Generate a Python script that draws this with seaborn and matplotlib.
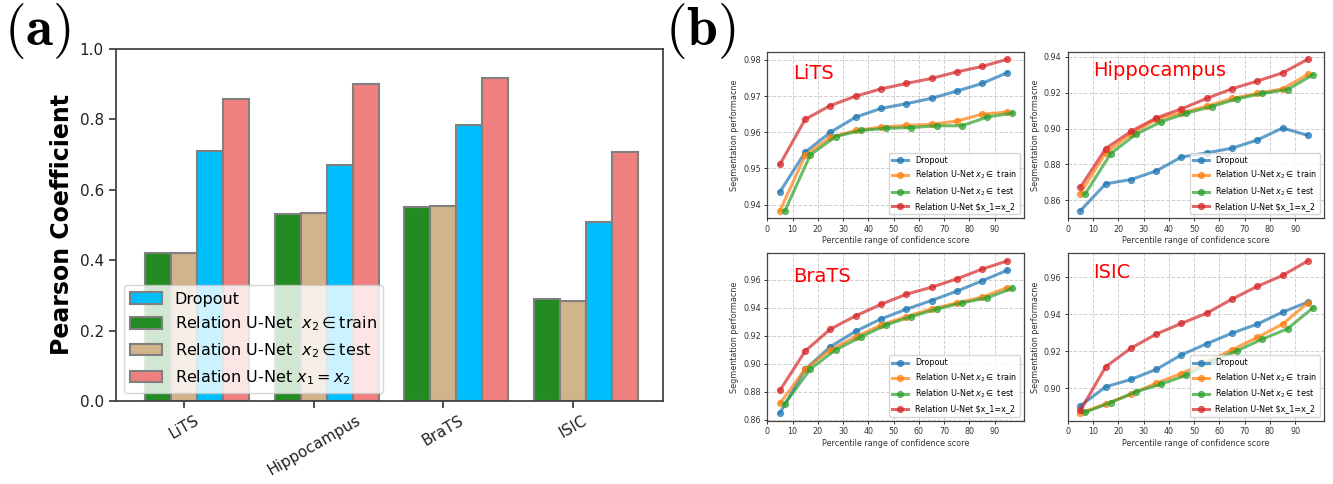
import numpy as np
import pandas as pd
import matplotlib
matplotlib.use("Agg")
import matplotlib.pyplot as plt
from matplotlib.ticker import MultipleLocator
import seaborn as sns

# ---------------- data: panel (a) ----------------
datasets = ["LiTS", "Hippocampus", "BraTS", "ISIC"]
pearson_dropout = [0.710, 0.670, 0.785, 0.508]
pearson_train = [0.420, 0.530, 0.552, 0.290]
pearson_test = [0.420, 0.535, 0.553, 0.284]
pearson_x1x2 = [0.857, 0.900, 0.917, 0.707]

# ---------------- data: panel (b) ----------------
pct_x = [5, 15, 25, 35, 45, 55, 65, 75, 85, 95]
pct_x_test = [7, 17, 27, 37, 47, 57, 67, 77, 87, 97]

lits_dropout = [0.9435, 0.9545, 0.9600, 0.9642, 0.9666, 0.9679, 0.9694, 0.9714, 0.9735, 0.9765]
lits_train = [0.9383, 0.9536, 0.9586, 0.9605, 0.9614, 0.9619, 0.9622, 0.9631, 0.9650, 0.9656]
lits_test = [0.9383, 0.9537, 0.9588, 0.9605, 0.9611, 0.9613, 0.9618, 0.9618, 0.9642, 0.9653]
lits_x1x2 = [0.9511, 0.9636, 0.9674, 0.9700, 0.9720, 0.9735, 0.9749, 0.9767, 0.9782, 0.9802]

hippo_dropout = [0.8541, 0.8691, 0.8715, 0.8763, 0.8841, 0.8864, 0.8890, 0.8936, 0.9003, 0.8962]
hippo_train = [0.8637, 0.8864, 0.8969, 0.9051, 0.9088, 0.9125, 0.9168, 0.9196, 0.9222, 0.9302]
hippo_test = [0.8637, 0.8860, 0.8968, 0.9038, 0.9086, 0.9123, 0.9166, 0.9196, 0.9218, 0.9300]
hippo_x1x2 = [0.8672, 0.8888, 0.8984, 0.9059, 0.9110, 0.9168, 0.9222, 0.9265, 0.9311, 0.9387]

brats_dropout = [0.8646, 0.8959, 0.9122, 0.9232, 0.9320, 0.9390, 0.9452, 0.9519, 0.9593, 0.9669]
brats_train = [0.8715, 0.8961, 0.9100, 0.9193, 0.9277, 0.9337, 0.9392, 0.9435, 0.9476, 0.9545]
brats_test = [0.8713, 0.8961, 0.9098, 0.9191, 0.9277, 0.9337, 0.9390, 0.9435, 0.9471, 0.9540]
brats_x1x2 = [0.8808, 0.9090, 0.9248, 0.9342, 0.9425, 0.9497, 0.9547, 0.9607, 0.9677, 0.9736]

isic_dropout = [0.8904, 0.9007, 0.9047, 0.9101, 0.9180, 0.9240, 0.9297, 0.9346, 0.9411, 0.9465]
isic_train = [0.8865, 0.8915, 0.8967, 0.9027, 0.9079, 0.9140, 0.9207, 0.9274, 0.9346, 0.9461]
isic_test = [0.8870, 0.8922, 0.8980, 0.9022, 0.9070, 0.9146, 0.9202, 0.9265, 0.9321, 0.9434]
isic_x1x2 = [0.8879, 0.9115, 0.9216, 0.9292, 0.9350, 0.9405, 0.9481, 0.9550, 0.9609, 0.9688]

# ---------------- figure ----------------
fig = plt.figure(figsize=(13.33, 4.84), dpi=100)
spine_col = "#444444"

# ---------- panel (a) ----------
axa = fig.add_axes([0.0868, 0.1715, 0.4104, 0.7273])
lab_drop = "Dropout"
lab_train = r"Relation U-Net  $x_2 \in$train"
lab_test = r"Relation U-Net  $x_2 \in$test"
lab_x1x2 = r"Relation U-Net $x_1 = x_2$"

rows = []
for i, d in enumerate(datasets):
    rows.append((d, lab_train, pearson_train[i]))
    rows.append((d, lab_test, pearson_test[i]))
    rows.append((d, lab_drop, pearson_dropout[i]))
    rows.append((d, lab_x1x2, pearson_x1x2[i]))
df = pd.DataFrame(rows, columns=["dataset", "method", "value"])

hue_order = [lab_train, lab_test, lab_drop, lab_x1x2]
palette = ["forestgreen", "tan", "deepskyblue", "lightcoral"]
sns.barplot(data=df, x="dataset", y="value", hue="method", hue_order=hue_order,
            order=datasets, palette=palette, saturation=1, errorbar=None,
            edgecolor="gray", linewidth=1.5, width=0.8, legend=False, ax=axa)

axa.set_ylim(0, 1.0)
axa.set_xlim(-0.626, 3.591)
axa.set_xticks(np.arange(len(datasets)) - 0.1)
axa.set_xticklabels(datasets, rotation=30, fontsize=11)
axa.tick_params(axis="y", labelsize=11)
axa.tick_params(colors="#222222", length=5, width=1.1)
axa.set_xlabel("")
axa.set_ylabel("Pearson Coefficient", fontsize=17, fontweight="bold")
for s in axa.spines.values():
    s.set_color(spine_col)
    s.set_linewidth(1.3)

conts = axa.containers
handles = [conts[2], conts[0], conts[1], conts[3]]
labels = [lab_drop, lab_train, lab_test, lab_x1x2]
axa.legend(handles, labels, loc="lower left", fontsize=11.5)

# ---------- panel (b) ----------
W, H = 0.1926, 0.3442
positions = [
    [0.5756, 0.5490, W, H],
    [0.8010, 0.5490, W, H],
    [0.5756, 0.1308, W, 0.3459],
    [0.8010, 0.1308, W, 0.3459],
]
series = [
    ("LiTS", lits_dropout, lits_train, lits_test, lits_x1x2, 0.01, 0.835),
    ("Hippocampus", hippo_dropout, hippo_train, hippo_test, hippo_x1x2, 0.02, 0.855),
    ("BraTS", brats_dropout, brats_train, brats_test, brats_x1x2, 0.02, 0.83),
    ("ISIC", isic_dropout, isic_train, isic_test, isic_x1x2, 0.02, 0.855),
]
fs = 5.8
for pos, (name, dr, tr, te, xx, step, ty) in zip(positions, series):
    ax = fig.add_axes(pos)
    ax.set_axisbelow(True)
    ax.grid(True, linestyle="--", color="#d0d0d0", linewidth=0.7)
    kw = dict(marker="o", alpha=0.7, linewidth=2.2, markersize=4.4, ax=ax)
    sns.lineplot(x=pct_x, y=dr, color="tab:blue", markeredgecolor="tab:blue",
                 label="Dropout", **kw)
    sns.lineplot(x=pct_x, y=tr, color="tab:orange", markeredgecolor="tab:orange",
                 label=r"Relation U-Net $x_2 \in$ train", **kw)
    sns.lineplot(x=pct_x_test, y=te, color="tab:green", markeredgecolor="tab:green",
                 label=r"Relation U-Net $x_2 \in$ test", **kw)
    sns.lineplot(x=pct_x, y=xx, color="tab:red", markeredgecolor="tab:red",
                 label=r"Relation U-Net \$x_1=x_2", **kw)
    ax.set_xlim(left=0)
    ax.set_xticks(list(range(0, 100, 10)))
    ax.yaxis.set_major_locator(MultipleLocator(step))
    ax.yaxis.set_major_formatter(matplotlib.ticker.FormatStrFormatter("%.2f"))
    ax.tick_params(labelsize=fs, length=2.5, width=0.7, pad=2, colors="#333333")
    ax.set_xlabel("Percentile range of confidence score", fontsize=fs, labelpad=2, color="#333333")
    ax.set_ylabel("Segmentation performacne", fontsize=fs, labelpad=3, color="#333333")
    for s in ax.spines.values():
        s.set_color(spine_col)
        s.set_linewidth(0.9)
    ax.legend(loc="lower right", fontsize=fs)
    ax.text(0.1, ty, name, transform=ax.transAxes, color="red", fontsize=14)

fig.text(0.003, 0.998, r"$\mathbf{(a)}$", fontsize=40, va="top", ha="left",
         math_fontfamily="cm")
fig.text(0.499, 0.998, r"$\mathbf{(b)}$", fontsize=40, va="top", ha="left",
         math_fontfamily="cm")

fig.savefig("out.png", dpi=100)
